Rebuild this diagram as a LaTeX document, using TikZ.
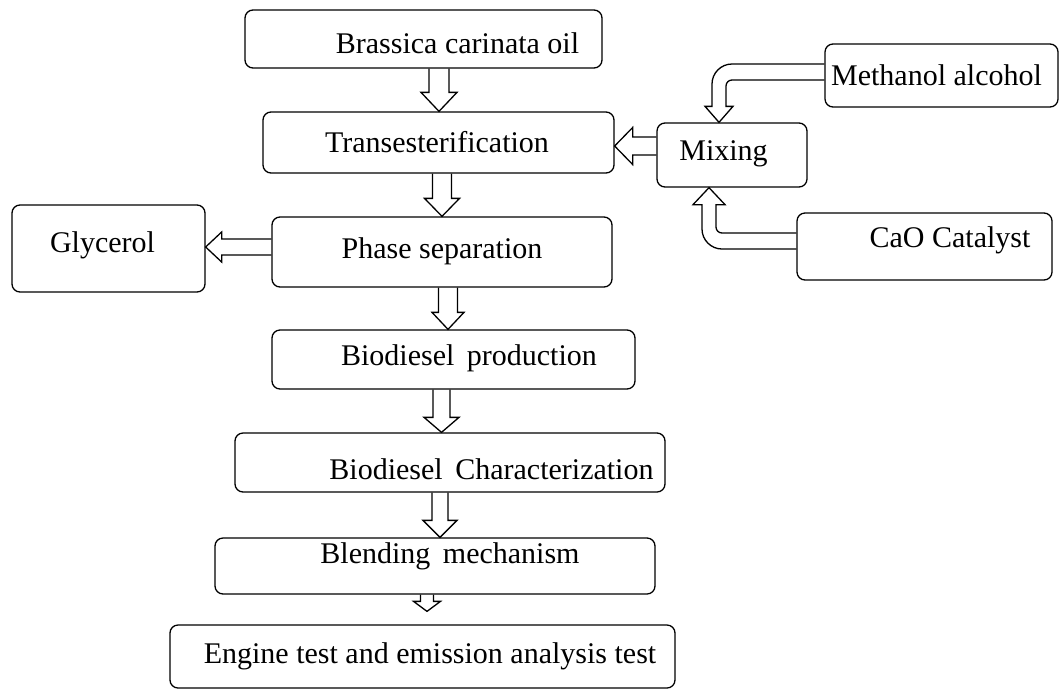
\documentclass[tikz,border=0pt]{standalone}
\usepackage{fontspec}
\setmainfont{Liberation Serif}
\usetikzlibrary{shapes,
                calc,
                positioning}
\tikzset{block/.style=
   {rectangle,
    draw,
    rounded corners=8pt,
    line width=1.3pt,
    inner sep=0pt}}
\tikzset{txt/.style = {text height=22pt, text depth=7pt}}
\tikzset{hollow/.style = {draw, line width=1.3pt, line join=miter}}
\newcommand{\blockdown}[5]{%
  \draw[hollow] let \p1=#1, \p2=#2 in
    (\x1-#3,\y1) -- (\x1-#3,\y2+#5) -- (\x1-#4,\y2+#5) -- (\x1,\y2)
    -- (\x1+#4,\y2+#5) -- (\x1+#3,\y2+#5) -- (\x1+#3,\y1);}
\newcommand{\blockleft}[5]{%
  \draw[hollow] let \p1=#1, \p2=#2 in
    (\x1,\y1+#3) -- (\x2+#5,\y1+#3) -- (\x2+#5,\y1+#4) -- (\x2,\y1)
    -- (\x2+#5,\y1-#4) -- (\x2+#5,\y1-#3) -- (\x1,\y1-#3);}

\begin{document}
\begin{tikzpicture}[x=1pt, y=-1pt, font=\fontsize{30}{36}\selectfont]

    \useasboundingbox (0,0) rectangle (1059,689);

    \node [block,
           minimum width=357pt, minimum height=58pt,
           label={[txt, xshift=34pt, yshift=-6.5pt]center:Brassica carinata oil}]
           (oil) at (423.5,39) {};

    \node [block,
           minimum width=351pt, minimum height=61pt,
           label={[txt, xshift=-1.5pt, yshift=-2pt]center:Transesterification}]
           (trans) at (438.5,142.5) {};

    \node [block,
           minimum width=340pt, minimum height=70pt,
           label={[txt, yshift=1.5pt]center:Phase separation}]
           (phase) at (442,252) {};

    \node [block,
           minimum width=363pt, minimum height=59pt,
           label={[txt, xshift=15.5pt, yshift=2pt]center:Biodiesel\,\ production}]
           (prod) at (453.5,359.5) {};

    \node [block,
           minimum width=430pt, minimum height=59pt,
           label={[txt, xshift=41.5pt, yshift=-9pt]center:Biodiesel\,\ Characterization}]
           (charac) at (450,462.5) {};

    \node [block,
           minimum width=440pt, minimum height=56pt,
           label={[txt, xshift=15pt, yshift=10.5pt]center:Blending\,\ mechanism}]
           (blend) at (435,566) {};

    \node [block,
           minimum width=505pt, minimum height=63pt,
           label={[txt, xshift=7.5pt, yshift=1pt]center:Engine test and emission analysis test}]
           (engine) at (422.5,656.5) {};

    \node [block,
           minimum width=193pt, minimum height=87pt,
           label={[txt, xshift=-6pt, yshift=4pt]center:Glycerol}]
           (glyc) at (108.5,248.5) {};

    \node [block,
           minimum width=150pt, minimum height=64pt,
           label={[txt, xshift=-8.5pt, yshift=2.5pt]center:Mixing}]
           (mix) at (732,155) {};

    \node [block,
           minimum width=233pt, minimum height=63pt,
           label={[txt, xshift=-5pt, yshift=-2pt]center:Methanol alcohol}]
           (meth) at (941.5,75.5) {};

    \node [block,
           minimum width=255pt, minimum height=67pt,
           label={[txt, xshift=25.5pt, yshift=7pt]center:CaO Catalyst}]
           (cao) at (924.5,246.5) {};

    \blockdown{(oil.south -| 439,0)}{(trans.north -| 439,0)}{10pt}{18pt}{19pt}
    \blockdown{(trans.south -| 442,0)}{(phase.north -| 442,0)}{9.5pt}{17.5pt}{18pt}
    \blockdown{(phase.south -| 448,0)}{(prod.north -| 448,0)}{9.5pt}{16pt}{17pt}
    \blockdown{(prod.south -| 441.5,0)}{(charac.north -| 441.5,0)}{8.5pt}{17.5pt}{15pt}
    \blockdown{(charac.south -| 440,0)}{(blend.north -| 440,0)}{8pt}{17pt}{17pt}
    \blockdown{(blend.south -| 427,0)}{([yshift=13pt]engine.north -| 427,0)}{6.5pt}{13.5pt}{10pt}

    \blockleft{(mix.west |- 0,146)}{(trans.east |- 0,146)}{9pt}{18.5pt}{18pt}
    \blockleft{(phase.west |- 0,247)}{(glyc.east |- 0,247)}{8pt}{15pt}{16pt}

    \draw[hollow] let \p1=(meth.west |- 0,72), \p2=(mix.north -| 719,0) in
        (\x1,\y1+8pt) -- (\x2+13pt,\y1+8pt)
        .. controls (\x2+2pt,\y1+8pt) and (\x2-7pt,\y1-1pt) .. (\x2-7pt,\y1-12pt)
        -- (\x2-7pt,\y2+16pt) -- (\x2-14pt,\y2+16pt) -- (\x2,\y2) -- (\x2+14pt,\y2+16pt)
        -- (\x2+7pt,\y2+16pt) -- (\x2+7pt,\y1-14pt)
        .. controls (\x2+7pt,\y1-10.7pt) and (\x2+9.7pt,\y1-8pt) .. (\x2+13pt,\y1-8pt)
        -- (\x1,\y1-8pt);

    \draw[hollow] let \p1=(cao.west |- 0,241), \p2=(mix.south -| 709,0) in
        (\x1,\y1-8pt) -- (\x2+13pt,\y1-8pt)
        .. controls (\x2+2pt,\y1-8pt) and (\x2-7pt,\y1+1pt) .. (\x2-7pt,\y1+12pt)
        -- (\x2-7pt,\y2-17pt) -- (\x2-16pt,\y2-17pt) -- (\x2,\y2) -- (\x2+16pt,\y2-17pt)
        -- (\x2+7pt,\y2-17pt) -- (\x2+7pt,\y1+14pt)
        .. controls (\x2+7pt,\y1+10.7pt) and (\x2+9.7pt,\y1+8pt) .. (\x2+13pt,\y1+8pt)
        -- (\x1,\y1+8pt);

\end{tikzpicture}
\end{document}
